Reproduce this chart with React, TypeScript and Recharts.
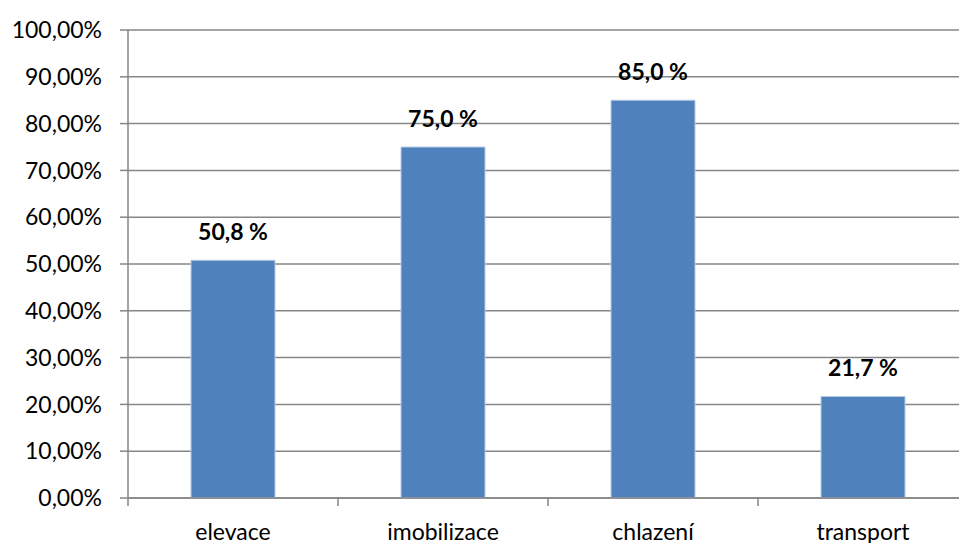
import React from "react";
import { BarChart, Bar, XAxis, YAxis, CartesianGrid, LabelList } from "recharts";

const CATEGORIES = ["elevace", "imobilizace", "chlazení", "transport"];
const SHARE = [50.8, 75.0, 85.0, 21.7];
const Y_TICKS = [0, 10, 20, 30, 40, 50, 60, 70, 80, 90, 100];

const data = CATEGORIES.map((name, i) => ({ name, value: SHARE[i] }));

const FONT = "Lato, 'Open Sans', sans-serif";
const AXIS_GRAY = "#868686";
const BAR_BLUE = "#4f81bd";

const CHART_W = 980;
const CHART_H = 543;
const MARGIN = { top: 30, right: 12, left: 8, bottom: 5 };
const Y_AXIS_W = 120;
const BAND = (CHART_W - MARGIN.left - MARGIN.right - Y_AXIS_W) / CATEGORIES.length;

const fmtTick = (v: number) => v.toFixed(2).replace(".", ",") + "%";
const fmtLabel = (v: any) => Number(v).toFixed(1).replace(".", ",") + " %";

// category label plus the small boundary tick on the left of each band
const CategoryTick = ({ x, y, payload }: any) => (
  <g>
    <line x1={x - BAND / 2} y1={y} x2={x - BAND / 2} y2={y + 8} stroke={AXIS_GRAY} strokeWidth={1.5} />
    <text x={x} y={y + 42} textAnchor="middle" fill="#000" fontSize={23} fontFamily={FONT}>
      {payload.value}
    </text>
  </g>
);

export default function App() {
  return (
    <div
      style={{
        position: "fixed",
        left: 0,
        top: 0,
        width: 959,
        height: 543,
        overflow: "hidden",
        background: "#fff",
      }}
    >
      <BarChart width={CHART_W} height={CHART_H} data={data} margin={MARGIN} barCategoryGap="30%">
        <CartesianGrid vertical={false} stroke={AXIS_GRAY} strokeWidth={1.5} />
        <XAxis
          dataKey="name"
          height={40}
          tickSize={0}
          tickMargin={0}
          tickLine={false}
          axisLine={{ stroke: AXIS_GRAY, strokeWidth: 1.5 }}
          tick={<CategoryTick />}
          interval={0}
        />
        <YAxis
          width={Y_AXIS_W}
          domain={[0, 100]}
          ticks={Y_TICKS}
          interval={0}
          tickFormatter={fmtTick}
          tickSize={8}
          tickMargin={18}
          tickLine={{ stroke: AXIS_GRAY, strokeWidth: 1.5 }}
          axisLine={{ stroke: AXIS_GRAY, strokeWidth: 1.5 }}
          tick={{ fill: "#000", fontSize: 23, fontFamily: FONT }}
        />
        <Bar dataKey="value" fill={BAR_BLUE} stroke="#b9cde5" strokeWidth={1} isAnimationActive={false}>
          <LabelList
            dataKey="value"
            position="top"
            offset={20}
            formatter={fmtLabel}
            style={{ fill: "#000", fontSize: 23, fontWeight: 700, fontFamily: FONT }}
          />
        </Bar>
      </BarChart>
    </div>
  );
}
